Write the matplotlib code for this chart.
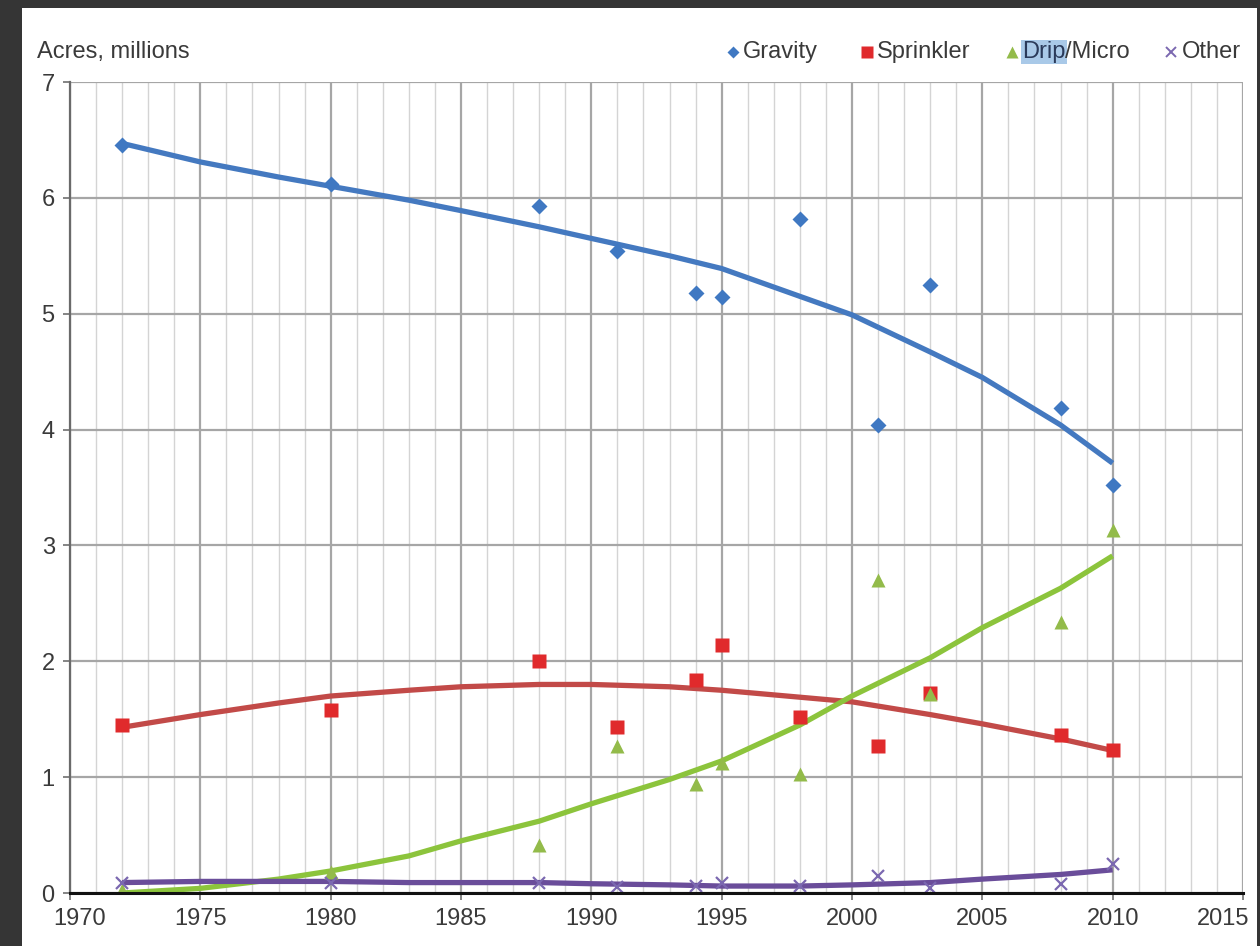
import numpy as np
import matplotlib
matplotlib.use('Agg')
import matplotlib.pyplot as plt
import matplotlib.transforms as mtransforms
from matplotlib.patches import Rectangle

plt.rcParams['font.family'] = ['Liberation Sans', 'DejaVu Sans']

# survey years and acreage (millions)
years = [1972, 1980, 1988, 1991, 1994, 1995, 1998, 2001, 2003, 2008, 2010]
gravity = [6.46, 6.12, 5.93, 5.54, 5.18, 5.14, 5.82, 4.04, 5.25, 4.19, 3.52]
sprinkler = [1.45, 1.58, 2.00, 1.43, 1.84, 2.14, 1.52, 1.27, 1.73, 1.36, 1.23]
drip = [0.03, 0.18, 0.41, 1.27, 0.94, 1.12, 1.03, 2.70, 1.72, 2.34, 3.13]
other = [0.09, 0.09, 0.09, 0.05, 0.06, 0.09, 0.06, 0.15, 0.04, 0.08, 0.25]

# trend lines
trend_years = [1972, 1975, 1978, 1980, 1983, 1985, 1988, 1990,
               1993, 1995, 1998, 2000, 2003, 2005, 2008, 2010]
gravity_trend = [6.47, 6.31, 6.18, 6.10, 5.98, 5.89, 5.75, 5.65,
                 5.50, 5.39, 5.15, 4.99, 4.67, 4.45, 4.04, 3.71]
sprinkler_trend = [1.43, 1.54, 1.64, 1.70, 1.75, 1.78, 1.80, 1.80,
                   1.78, 1.75, 1.69, 1.65, 1.54, 1.46, 1.33, 1.23]
drip_trend = [0.00, 0.04, 0.12, 0.19, 0.32, 0.45, 0.62, 0.77,
              0.98, 1.14, 1.45, 1.70, 2.03, 2.29, 2.63, 2.91]
other_trend = [0.09, 0.10, 0.10, 0.10, 0.09, 0.09, 0.09, 0.08,
               0.07, 0.06, 0.06, 0.07, 0.09, 0.12, 0.16, 0.20]

W, H = 1260, 946
fig = plt.figure(figsize=(W/100, H/100), dpi=100, facecolor='#353535')
fig.add_artist(Rectangle((22/W, 0), (1257-22)/W, 1-8/H, transform=fig.transFigure,
                         facecolor='white', edgecolor='none', zorder=0))
ax = fig.add_axes([70/W, 1-893/H, (1243-70)/W, (893-82)/H])
ax.set_facecolor('white')

txt = '#3a3a3a'
ax.set_xlim(1970, 2015)
ax.set_ylim(0, 7)
ax.set_xticks(np.arange(1970, 2016, 5))
ax.set_xticks(np.arange(1970, 2016, 1), minor=True)
ax.set_yticks(np.arange(0, 8, 1))
ax.grid(which='major', axis='x', color='#a6a6a6', lw=1.6, zorder=1)
ax.grid(which='minor', axis='x', color='#d4d4d4', lw=1.0, zorder=1)
ax.grid(which='major', axis='y', color='#a6a6a6', lw=1.6, zorder=1)
ax.tick_params(which='minor', length=0)
ax.tick_params(which='major', length=5, width=1.2, color='#707070',
               labelsize=17, labelcolor=txt, pad=6)
for s in ['top', 'right']:
    ax.spines[s].set_visible(False)
ax.spines['left'].set_color('#6a6a6a')
ax.spines['left'].set_linewidth(1.6)
ax.spines['bottom'].set_color('#111111')
ax.spines['bottom'].set_linewidth(2.2)
ax.spines['bottom'].set_zorder(5)

# nudge the edge labels inwards, as the original does
xlabels = ax.get_xticklabels()
xlabels[0].set_transform(xlabels[0].get_transform() +
                         mtransforms.ScaledTranslation(10/100, 0, fig.dpi_scale_trans))
xlabels[-1].set_transform(xlabels[-1].get_transform() +
                          mtransforms.ScaledTranslation(-20/100, 0, fig.dpi_scale_trans))

blue, red, green, purple = '#3f78c2', '#e02a2c', '#93bb4a', '#7b68b0'
ax.plot(trend_years, gravity_trend, color='#4479c0', lw=3.8, zorder=3, solid_capstyle='butt')
ax.plot(trend_years, sprinkler_trend, color='#c24a48', lw=3.8, zorder=3, solid_capstyle='butt')
ax.plot(trend_years, drip_trend, color='#8cc43c', lw=3.8, zorder=3, solid_capstyle='butt')
ax.plot(trend_years, other_trend, color='#6a4d9a', lw=3.8, zorder=3, solid_capstyle='butt')

ax.plot(years, gravity, 'D', color=blue, ms=8.5, mec='none', zorder=4)
ax.plot(years, sprinkler, 's', color=red, ms=10, mec='none', zorder=4)
ax.plot(years, drip, '^', color=green, ms=10, mec='none', zorder=4)
ax.plot(years, other, 'x', color=purple, ms=9, mew=1.6, zorder=4)

# header text and legend
fig.text(37/W, 1-52/H, 'Acres, millions', fontsize=17, color=txt, va='center', ha='left')

def leg_marker(x, m, c, ms, **kw):
    ax.plot([x/W], [1-52/H], m, color=c, ms=ms, transform=fig.transFigure,
            clip_on=False, **kw)

leg_marker(733, 'D', blue, 6, mec='none')
fig.text(743/W, 1-52/H, 'Gravity', fontsize=17, color=txt, va='center')
leg_marker(867, 's', red, 8, mec='none')
fig.text(877/W, 1-52/H, 'Sprinkler', fontsize=17, color=txt, va='center')
leg_marker(1012, '^', green, 8, mec='none')
t_drip = fig.text(1022/W, 1-52/H, 'Drip', fontsize=17, color='#2a3a5a', va='center',
                  bbox=dict(facecolor='#a9c9e8', edgecolor='none', pad=1.0))
leg_marker(1171, 'x', purple, 7, mew=1.4)
fig.text(1182/W, 1-52/H, 'Other', fontsize=17, color=txt, va='center')

fig.canvas.draw()
bb = t_drip.get_window_extent()
fig.text(bb.x1/W, 1-52/H, '/Micro', fontsize=17, color=txt, va='center')

fig.savefig('out.png', dpi=100, facecolor=fig.get_facecolor())
